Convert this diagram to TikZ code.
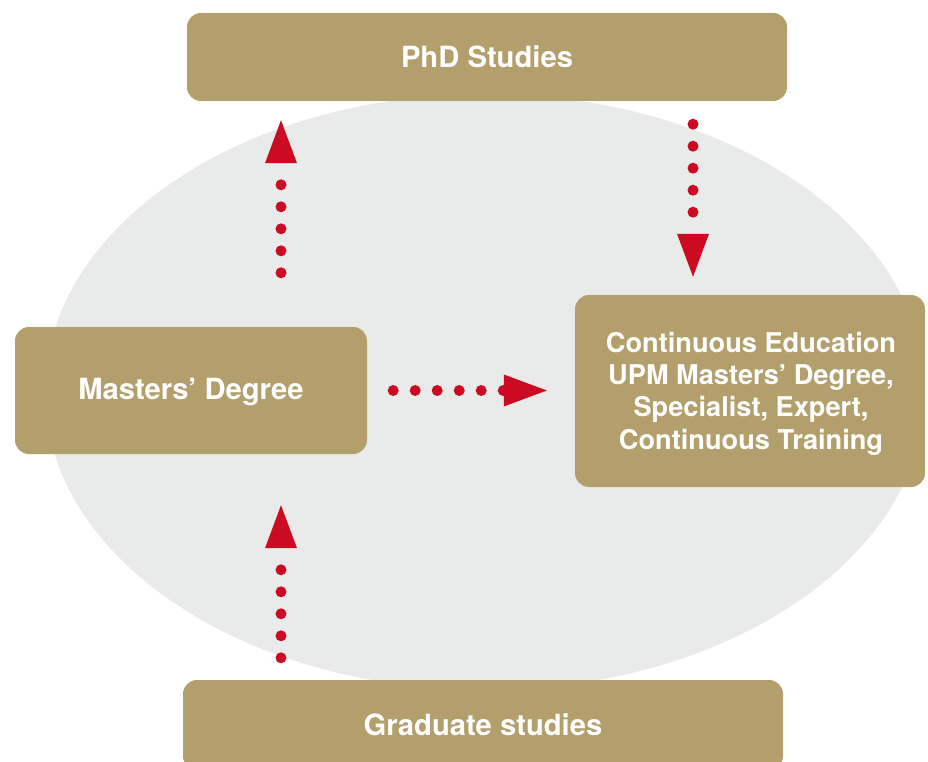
\documentclass[tikz,border=0pt]{standalone}
\usepackage{fontspec}
\setmainfont{TeX Gyre Heros}
\usetikzlibrary{arrows.meta}
\definecolor{gold}{HTML}{B39F6B}
\definecolor{upmred}{HTML}{CC0A21}
\definecolor{ellgray}{HTML}{E9EBEA}
\begin{document}
\begin{tikzpicture}[x=1pt,y=-1pt,
  box/.style={fill=gold, rounded corners=14pt, text=white, inner sep=0pt, align=center,
    font=\bfseries\fontsize{29.2}{34}\selectfont},
  multibox/.style={box, font=\bfseries\fontsize{27.2}{32.3}\selectfont},
  dotarrow/.style={draw=upmred, line width=11pt, line cap=round,
    dash pattern=on 0pt off 22pt,
    -{Triangle[length=43pt,width=32pt,line width=0pt,fill=upmred,color=upmred]}}]
\useasboundingbox (0,0) rectangle (928,762);
\clip (0,0) rectangle (928,762);
\fill[ellgray] (485,392) ellipse [x radius=440pt, y radius=298pt];

\node[box, minimum width=600pt, minimum height=88pt] (phd) at (487,57) {PhD Studies};
\node[box, minimum width=352pt, minimum height=127pt] (masters) at (191,390.5) {};
\node[font=\bfseries\fontsize{29.2}{34}\selectfont, text=white, inner sep=0pt] (masterslabel) at (191,392.5) {Masters’ Degree};
\node[multibox, minimum width=350pt, minimum height=192pt] (cont) at (750,391) {};
\node[font=\bfseries\fontsize{27.2}{32.3}\selectfont, text=white, inner sep=0pt, align=center] (contlabel) at (751,393.5)
  {Continuous Education\\UPM Masters’ Degree,\\Specialist, Expert,\\Continuous Training};
\node[box, minimum width=600pt, minimum height=90pt] (grad) at (483,725) {Graduate studies};

\path (masters.north) ++(90,0) coordinate (m1);
\path (phd.south) ++(206,0) coordinate (p1);
\path (grad.north) ++(-202,0) coordinate (g1);

\draw[dotarrow, shorten <=54pt, shorten >=19pt] (m1) -- (m1 |- phd.south);
\draw[dotarrow, shorten <=23pt, shorten >=18pt] (p1) -- (p1 |- cont.north);
\draw[dotarrow, shorten <=26pt, shorten >=28pt] (masters.east) -- (masters.east -| cont.west);
\draw[dotarrow, shorten <=22pt, shorten >=51pt] (g1) -- (g1 |- masters.south);
\end{tikzpicture}
\end{document}
